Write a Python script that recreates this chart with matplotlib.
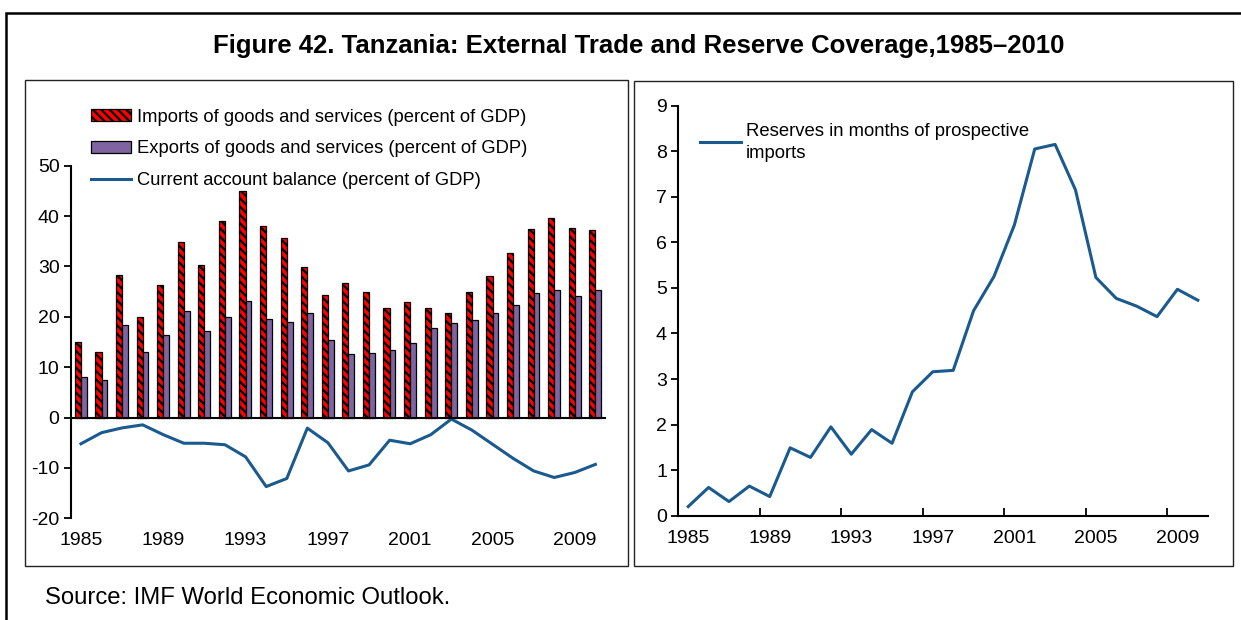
import numpy as np
import matplotlib
matplotlib.use('Agg')
import matplotlib.pyplot as plt
from matplotlib.patches import Rectangle

plt.rcParams['font.family'] = ['Liberation Sans', 'DejaVu Sans']
plt.rcParams['hatch.linewidth'] = 1.6
plt.rcParams['axes.unicode_minus'] = False

# data
years = list(range(1985, 2011))
imports = [15.0, 13.0, 28.4, 19.9, 26.3, 34.8, 30.3, 39.0, 45.0, 38.1, 35.7, 29.9, 24.4,
           26.8, 25.0, 21.7, 22.9, 21.7, 20.8, 25.0, 28.1, 32.6, 37.5, 39.6, 37.7, 37.2]
exports = [8.1, 7.5, 18.4, 13.0, 16.3, 21.1, 17.2, 19.9, 23.2, 19.6, 18.9, 20.8, 15.4,
           12.6, 12.9, 13.5, 14.8, 17.7, 18.7, 19.3, 20.8, 22.3, 24.7, 25.3, 24.2, 25.3]
current_account = [-5.2, -3.0, -2.05, -1.45, -3.4, -5.1, -5.1, -5.4, -7.8, -13.7, -12.1, -2.1, -5.0,
                   -10.6, -9.4, -4.5, -5.2, -3.4, -0.3, -2.5, -5.3, -8.1, -10.6, -11.9, -10.9, -9.3]
reserves = [0.20, 0.62, 0.31, 0.65, 0.42, 1.49, 1.28, 1.95, 1.35, 1.89, 1.59, 2.72, 3.16,
            3.19, 4.50, 5.25, 6.38, 8.05, 8.15, 7.15, 5.23, 4.77, 4.60, 4.37, 4.97, 4.73]
tick_years = ['1985', '1989', '1993', '1997', '2001', '2005', '2009']

blue = '#1B5A8E'
W, H = 1241, 620
fig = plt.figure(figsize=(W / 100, H / 100), dpi=100)

def fx(px):
    return px / W

def fy(py):
    return 1 - py / H

# frames
fig.patches.append(Rectangle((fx(6), fy(700)), fx(1300), fy(13) - fy(700), transform=fig.transFigure,
                             fill=False, edgecolor='black', linewidth=1.8))
fig.patches.append(Rectangle((fx(25), fy(566)), fx(603), fy(80) - fy(566), transform=fig.transFigure,
                             fill=False, edgecolor='#222222', linewidth=1.0))
fig.patches.append(Rectangle((fx(634), fy(566)), fx(599), fy(81) - fy(566), transform=fig.transFigure,
                             fill=False, edgecolor='#222222', linewidth=1.0))

fig.text(fx(639), fy(46), 'Figure 42. Tanzania: External Trade and Reserve Coverage,1985\u20132010',
         ha='center', va='center', fontsize=18.5, fontweight='bold')
fig.text(fx(45), fy(598), 'Source: IMF World Economic Outlook.', ha='left', va='center', fontsize=17.2)

x = np.arange(len(years))

# left panel
ax1 = fig.add_axes([fx(70.7), fy(518.3), fx(535), fy(165.7) - fy(518.3)])
b1 = ax1.bar(x - 0.15, imports, width=0.3, color='red', edgecolor='black', linewidth=0.9,
             hatch='\\\\\\\\', label='Imports of goods and services (percent of GDP)')
b2 = ax1.bar(x + 0.14, exports, width=0.28, color='#8064A2', edgecolor='black', linewidth=0.9,
             label='Exports of goods and services (percent of GDP)')
l1, = ax1.plot(x, current_account, color=blue, linewidth=2.2,
               label='Current account balance (percent of GDP)')
ax1.axhline(0, color='black', linewidth=1.5)
ax1.set_xlim(-0.5, len(years) - 0.5)
ax1.set_ylim(-20, 50)
ax1.set_yticks(range(-20, 51, 10))
ax1.set_xticks(x[::4])
ax1.set_xticklabels(tick_years)
ax1.tick_params(axis='x', length=0, pad=10, labelsize=14)
ax1.tick_params(axis='y', direction='out', length=5, width=1.3, labelsize=14, pad=3)
for s in ['top', 'right', 'bottom']:
    ax1.spines[s].set_visible(False)
ax1.spines['left'].set_linewidth(1.5)
ax1.legend(handles=[b1, b2, l1], loc='upper left', bbox_to_anchor=(fx(91), fy(108.5)),
           bbox_transform=fig.transFigure, frameon=False, fontsize=13.2, handlelength=2.2,
           handleheight=0.6, handletextpad=0.3, labelspacing=0.8, borderaxespad=0, borderpad=0)

# right panel
ax2 = fig.add_axes([fx(678), fy(515.7), fx(530), fy(105.7) - fy(515.7)])
ax2.plot(x, reserves, color=blue, linewidth=2.2, label='Reserves in months of prospective\nimports')
ax2.set_xlim(-0.5, len(years) - 0.5)
ax2.set_ylim(0, 9)
ax2.set_yticks(range(0, 10))
ax2.set_xticks(np.arange(-0.5, len(years), 4), minor=False)
ax2.set_xticklabels([])
ax2.set_xticks(x[::4], minor=True)
ax2.set_xticklabels(tick_years, minor=True)
ax2.tick_params(axis='x', which='major', direction='in', length=6, width=1.3)
ax2.tick_params(axis='x', which='minor', length=0, pad=10, labelsize=14)
ax2.tick_params(axis='y', direction='out', length=5, width=1.3, labelsize=14, pad=3)
for s in ['top', 'right']:
    ax2.spines[s].set_visible(False)
ax2.spines['left'].set_linewidth(1.5)
ax2.spines['bottom'].set_linewidth(1.5)
leg2 = ax2.legend(loc='upper left', bbox_to_anchor=(fx(700), fy(123)), bbox_transform=fig.transFigure,
                  frameon=False, fontsize=13.3, handlelength=2.2, handletextpad=0.3,
                  borderaxespad=0, borderpad=0)
for t in leg2.get_texts():
    t.set_linespacing(1.35)

fig.savefig('out.png', dpi=100)
